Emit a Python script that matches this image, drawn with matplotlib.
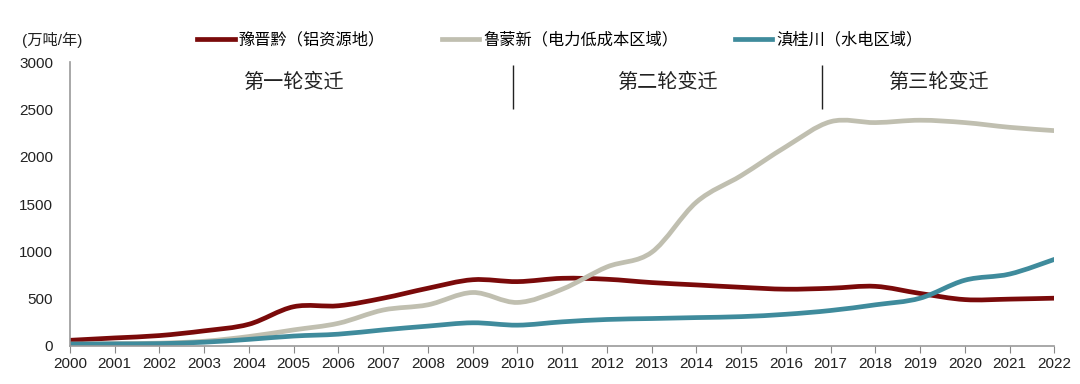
import numpy as np
import matplotlib
matplotlib.use("Agg")
import matplotlib.pyplot as plt
from matplotlib.path import Path
from matplotlib.patches import PathPatch
from matplotlib.lines import Line2D

plt.rcParams['font.family'] = ['Liberation Sans', 'Noto Sans CJK SC', 'DejaVu Sans']

years = list(range(2000, 2023))
year_labels = [str(y) for y in years]

# 万吨/年
yu_jin_qian = [60, 85, 110, 160, 230, 415, 425, 505, 610, 700, 680, 715, 705, 670, 645,
               620, 600, 610, 630, 555, 490, 495, 505]
lu_meng_xin = [20, 25, 30, 50, 100, 170, 240, 380, 435, 565, 460, 600, 835, 990, 1520,
               1800, 2105, 2370, 2360, 2385, 2360, 2310, 2275]
dian_gui_chuan = [20, 22, 25, 40, 70, 105, 125, 170, 210, 245, 220, 255, 280, 290, 300,
                  310, 335, 375, 435, 505, 695, 760, 915]

series_names = ['豫晋黔（铝资源地）', '鲁蒙新（电力低成本区域）', '滇桂川（水电区域）']
series_colors = ['#7a0a0a', '#c0bfb0', '#3f8b9c']

stage_labels = ['第一轮变迁', '第二轮变迁', '第三轮变迁']
stage_x = [2005.0, 2013.35, 2019.4]
divider_x = [2009.9, 2016.8]


def smooth_path(x, y):
    # Excel-style smoothed line: Catmull-Rom segments drawn as cubic Beziers
    x = np.asarray(x, float)
    y = np.asarray(y, float)
    pts = np.column_stack([x, y])
    verts = [pts[0]]
    codes = [Path.MOVETO]
    n = len(pts)
    for i in range(n - 1):
        p0 = pts[i - 1] if i > 0 else pts[i]
        p1 = pts[i]
        p2 = pts[i + 1]
        p3 = pts[i + 2] if i + 2 < n else pts[i + 1]
        c1 = p1 + (p2 - p0) / 6.0
        c2 = p2 - (p3 - p1) / 6.0
        verts += [c1, c2, p2]
        codes += [Path.CURVE4] * 3
    return Path(verts, codes)


fig = plt.figure(figsize=(10.8, 3.84), dpi=100)
ax = fig.add_axes([0.0648, 0.099, 0.9115, 0.7395])

for vals, col in zip([yu_jin_qian, lu_meng_xin, dian_gui_chuan], series_colors):
    patch = PathPatch(smooth_path(years, vals), facecolor='none', edgecolor=col,
                      lw=3.4, capstyle='round', joinstyle='round')
    ax.add_patch(patch)

ax.set_xlim(2000, 2022)
ax.set_ylim(0, 3000)
ax.set_xticks(years)
ax.set_xticklabels(year_labels, fontsize=11, color='#222222')
ax.set_yticks(range(0, 3001, 500))
ax.tick_params(axis='y', length=0, labelsize=11, labelcolor='#222222', pad=12)
ax.tick_params(axis='x', length=5, direction='out', color='#888888', pad=3)
for s in ['top', 'right']:
    ax.spines[s].set_visible(False)
for s in ['left', 'bottom']:
    ax.spines[s].set_color('#999999')
    ax.spines[s].set_linewidth(1.2)

ax.vlines(divider_x, 2500, 2970, color='#222222', lw=1)
for lab, xs in zip(stage_labels, stage_x):
    ax.text(xs, 2790, lab, ha='center', va='center', fontsize=14.5, color='#222222')

fig.text(0.020, 0.895, '(万吨/年)', fontsize=11, color='#222222', va='center')

handles = [Line2D([0], [0], color=c, lw=3.4) for c in series_colors]
fig.legend(handles, series_names, loc='center', bbox_to_anchor=(0.5185, 0.896), ncol=3,
           frameon=False, fontsize=11.7, handlelength=2.3, handletextpad=0.25,
           columnspacing=3.5)

fig.savefig('out.png', dpi=100)
